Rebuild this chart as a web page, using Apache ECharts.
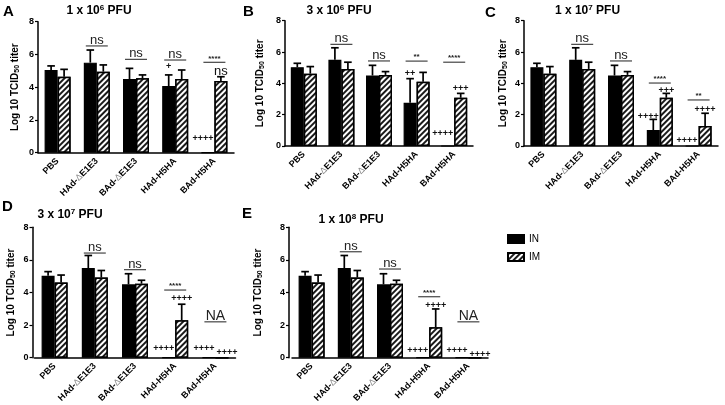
<!DOCTYPE html>
<html>
<head>
<meta charset="utf-8">
<script src="https://cdn.jsdelivr.net/npm/echarts@6/dist/echarts.min.js"></script>
<style>
html,body{margin:0;padding:0;background:#fff;}
#chart{width:725px;height:405px;}
</style>
</head>
<body>
<div id="chart"></div>
<script>
// ---------- DATA ----------
const categories = ['PBS', 'HAd-ΔE1E3', 'BAd-ΔE1E3', 'HAd-H5HA', 'BAd-H5HA'];
const seriesNames = ['IN', 'IM'];
const panelLetters = ['A', 'B', 'C', 'D', 'E'];
const doseMantissa = ['1', '3', '1', '3', '1'];
const doseExponent = ['6', '6', '7', '7', '8'];
const yTickValues = [0, 2, 4, 6, 8];

// Panel A (1 x 10^6 PFU)
const inMeanA = [5.05, 5.5, 4.5, 4.07, 0];
const inUpperA = [5.3, 6.27, 5.15, 4.75, 0];
const imMeanA = [4.64, 4.95, 4.54, 4.5, 4.38];
const imUpperA = [5.09, 5.36, 4.75, 5.05, 4.64];
const sigA = [[1, 6.52, 'ns'], [2, 5.7, 'ns'], [3, 5.66, 'ns'], [4, 5.52, '****']];
const marksA = [[3, 5.25, '+', 'IN'], [4, 4.95, 'ns', 'IM'], [4, 0.87, '++++', 'L']];

// Panel B (3 x 10^6 PFU)
const inMeanB = [5.03, 5.5, 4.5, 2.76, 0];
const inUpperB = [5.28, 6.27, 5.15, 4.3, 0];
const imMeanB = [4.62, 4.92, 4.54, 4.1, 3.08];
const imUpperB = [5.07, 5.35, 4.75, 4.7, 3.36];
const sigB = [[1, 6.49, 'ns'], [2, 5.43, 'ns'], [3, 5.42, '**'], [4, 5.35, '****']];
const marksB = [[3, 4.64, '++', 'IN'], [4, 3.64, '+++', 'IM'], [4, 0.81, '++++', 'L']];

// Panel C (1 x 10^7 PFU)
const inMeanC = [5.03, 5.5, 4.5, 1.02, 0];
const inUpperC = [5.28, 6.27, 5.15, 1.7, 0];
const imMeanC = [4.62, 4.92, 4.54, 3.08, 1.28];
const imUpperC = [5.07, 5.35, 4.75, 3.36, 2.09];
const sigC = [[1, 6.49, 'ns'], [2, 5.43, 'ns'], [3, 4.02, '****'], [4, 2.94, '**']];
const marksC = [[3, 3.57, '+++', 'IM'], [3, 1.87, '++++', 'L'], [4, 2.3, '++++', 'IM'], [4, 0.38, '++++', 'L']];

// Panel D (3 x 10^7 PFU)
const inMeanD = [5.03, 5.5, 4.5, 0, 0];
const inUpperD = [5.28, 6.27, 5.15, 0, 0];
const imMeanD = [4.62, 4.92, 4.54, 2.3, 0];
const imUpperD = [5.07, 5.35, 4.75, 3.28, 0];
const sigD = [[1, 6.42, 'ns'], [2, 5.4, 'ns'], [3, 4.15, '****'], [4, 2.2, 'NA']];
const marksD = [[3, 3.64, '++++', 'IM'], [3, 0.55, '++++', 'L'], [4, 0.55, '++++', 'L'], [4, 0.3, '++++', 'R']];

// Panel E (1 x 10^8 PFU)
const inMeanE = [5.03, 5.5, 4.5, 0, 0];
const inUpperE = [5.28, 6.27, 5.15, 0, 0];
const imMeanE = [4.62, 4.92, 4.54, 1.87, 0];
const imUpperE = [5.07, 5.35, 4.75, 2.99, 0];
const sigE = [[1, 6.5, 'ns'], [2, 5.44, 'ns'], [3, 3.74, '****'], [4, 2.2, 'NA']];
const marksE = [[3, 3.23, '++++', 'IM'], [3, 0.47, '++++', 'L'], [4, 0.47, '++++', 'L'], [4, 0.22, '++++', 'R']];

// ---------- LAYOUT / STYLE ----------
const FONT = "'Liberation Sans', Arial, sans-serif";
const BAR_W = 13;
const layout = [
  { grid: { left: 38, top: 21.7, width: 196, height: 131 }, yOffset: 0, nameGap: 17, title: [99, 4], letter: [3, 12.5] },
  { grid: { left: 285, top: 20.7, width: 188, height: 125.3 }, yOffset: 0, nameGap: 19, title: [339, 4], letter: [243, 12] },
  { grid: { left: 524, top: 20.7, width: 194, height: 125.3 }, yOffset: 0, nameGap: 15, title: [587.5, 4], letter: [485, 13] },
  { grid: { left: 34.5, top: 227.3, width: 201, height: 131.7 }, yOffset: 2, nameGap: 16, title: [70, 208], letter: [2, 207.5] },
  { grid: { left: 292, top: 227.3, width: 196, height: 130.4 }, yOffset: 3, nameGap: 25, title: [351, 213], letter: [242, 214] }
];

const panels = [
  { inM: inMeanA, inU: inUpperA, imM: imMeanA, imU: imUpperA, sig: sigA, marks: marksA },
  { inM: inMeanB, inU: inUpperB, imM: imMeanB, imU: imUpperB, sig: sigB, marks: marksB },
  { inM: inMeanC, inU: inUpperC, imM: imMeanC, imU: imUpperC, sig: sigC, marks: marksC },
  { inM: inMeanD, inU: inUpperD, imM: imMeanD, imU: imUpperD, sig: sigD, marks: marksD },
  { inM: inMeanE, inU: inUpperE, imM: imMeanE, imU: imUpperE, sig: sigE, marks: marksE }
];

const hatch = {
  symbol: 'rect',
  symbolSize: 1,
  color: '#1a1a1a',
  backgroundColor: '#ffffff',
  dashArrayX: [1, 0],
  dashArrayY: [1.1, 1.6],
  rotation: -Math.PI / 4
};

const grids = [], xAxes = [], yAxes = [], series = [], titles = [], graphics = [];

function errRender(arr, offset) {
  return function (params, api) {
    const i = api.value(0), m = api.value(1), u = api.value(2);
    if (!(u > m)) return null;
    const p0 = api.coord([i, m]);
    const p1 = api.coord([i, u]);
    const x = p0[0] + offset;
    const st = { stroke: '#000', lineWidth: 1.7 };
    return {
      type: 'group',
      children: [
        { type: 'line', shape: { x1: x, y1: p0[1], x2: x, y2: p1[1] }, style: st },
        { type: 'line', shape: { x1: x - 3.8, y1: p1[1], x2: x + 3.8, y2: p1[1] }, style: st }
      ]
    };
  };
}

function sigRender(arr) {
  return function (params, api) {
    const d = arr[params.dataIndex];
    const p = api.coord([d[0], d[1]]);
    const t = d[2];
    let font;
    if (t.indexOf('*') >= 0) font = 'bold 8px ' + FONT;
    else if (t === 'NA') font = '14px ' + FONT;
    else font = '13px ' + FONT;
    return {
      type: 'group',
      children: [
        { type: 'line', shape: { x1: p[0] - 11, y1: p[1], x2: p[0] + 11, y2: p[1] }, style: { stroke: '#444', lineWidth: 1.2 } },
        { type: 'text', x: p[0], y: p[1] - (t.indexOf('*') >= 0 ? 0 : -1), style: { text: t, font: font, fill: '#222', textAlign: 'center', textVerticalAlign: 'bottom' } }
      ]
    };
  };
}

function markRender(arr) {
  return function (params, api) {
    const d = arr[params.dataIndex];
    const p = api.coord([d[0], d[1]]);
    const t = d[2], mode = d[3];
    let x = p[0], align = 'center';
    if (mode === 'IN') x = p[0] - BAR_W / 2;
    else if (mode === 'IM') x = p[0] + BAR_W / 2;
    else if (mode === 'L') { x = p[0] - 1; align = 'right'; }
    else if (mode === 'R') { x = p[0] + 1; align = 'left'; }
    const font = t.indexOf('+') >= 0 ? 'bold 9px ' + FONT : '13px ' + FONT;
    return { type: 'text', x: x, y: p[1], style: { text: t, font: font, fill: '#111', textAlign: align, textVerticalAlign: 'middle' } };
  };
}

panels.forEach(function (pn, k) {
  const L = layout[k];
  grids.push(Object.assign({ containLabel: false }, L.grid));
  xAxes.push({
    type: 'category', gridIndex: k, data: categories,
    axisLine: { lineStyle: { color: '#000', width: 1.5 } },
    axisTick: { alignWithLabel: true, length: 3, lineStyle: { color: '#000', width: 1.2 } },
    axisLabel: {
      rotate: 45, margin: 7, interval: 0, color: '#000',
      fontFamily: FONT, fontWeight: 'bold', fontSize: 9,
      formatter: function (v) { return v.replace('Δ', '{d|Δ}'); },
      rich: { d: { color: '#888', fontWeight: 'normal', fontSize: 9, fontFamily: FONT } }
    }
  });
  yAxes.push({
    type: 'value', gridIndex: k, min: yTickValues[0], max: yTickValues[yTickValues.length - 1], interval: 2,
    offset: L.yOffset,
    name: 'Log 10 TCID{s|50} titer', nameLocation: 'middle', nameGap: L.nameGap,
    nameTextStyle: {
      fontFamily: FONT, fontWeight: 'bold', fontSize: 10, color: '#000',
      rich: { s: { fontFamily: FONT, fontWeight: 'bold', fontSize: 7, verticalAlign: 'bottom', padding: [4, 0, 0, 0] } }
    },
    axisLine: { show: true, lineStyle: { color: '#000', width: 1.5 } },
    axisTick: { show: true, length: 3, lineStyle: { color: '#000', width: 1.2 } },
    axisLabel: { color: '#000', fontFamily: FONT, fontWeight: 'bold', fontSize: 9, margin: 4 },
    splitLine: { show: false }
  });
  series.push({
    name: seriesNames[0], type: 'bar', xAxisIndex: k, yAxisIndex: k,
    data: pn.inM, barWidth: BAR_W, barGap: '0%', z: 2,
    itemStyle: { color: '#000', borderColor: '#000', borderWidth: 1.2 }
  });
  series.push({
    name: seriesNames[1], type: 'bar', xAxisIndex: k, yAxisIndex: k,
    data: pn.imM, barWidth: BAR_W, barGap: '0%', z: 2,
    itemStyle: { color: '#fff', borderColor: '#000', borderWidth: 1.5, decal: hatch }
  });
  series.push({
    type: 'custom', xAxisIndex: k, yAxisIndex: k, z: 3, silent: true,
    encode: { x: 0, y: [1, 2] },
    data: pn.inM.map(function (m, i) { return [i, m, pn.inU[i]]; }),
    renderItem: errRender(pn.inM, -BAR_W / 2)
  });
  series.push({
    type: 'custom', xAxisIndex: k, yAxisIndex: k, z: 3, silent: true,
    encode: { x: 0, y: [1, 2] },
    data: pn.imM.map(function (m, i) { return [i, m, pn.imU[i]]; }),
    renderItem: errRender(pn.imM, BAR_W / 2)
  });
  series.push({
    type: 'custom', xAxisIndex: k, yAxisIndex: k, z: 4, silent: true,
    encode: { x: 0, y: 1 },
    data: pn.sig.map(function (d) { return [d[0], d[1]]; }),
    renderItem: sigRender(pn.sig)
  });
  series.push({
    type: 'custom', xAxisIndex: k, yAxisIndex: k, z: 4, silent: true,
    encode: { x: 0, y: 1 },
    data: pn.marks.map(function (d) { return [d[0], d[1]]; }),
    renderItem: markRender(pn.marks)
  });
  titles.push({
    text: doseMantissa[k] + ' x 10{sup|' + doseExponent[k] + '} PFU',
    left: L.title[0], top: L.title[1], textAlign: 'center', padding: 0,
    textStyle: {
      fontFamily: FONT, fontWeight: 'bold', fontSize: 12, color: '#000', lineHeight: 14,
      rich: { sup: { fontFamily: FONT, fontWeight: 'bold', fontSize: 8, verticalAlign: 'top', lineHeight: 14, padding: [0, 0, 6, 0] } }
    }
  });
  graphics.push({
    type: 'text', left: L.letter[0], top: L.letter[1] - 8,
    style: { text: panelLetters[k], font: 'bold 15px ' + FONT, fill: '#000' }
  });
});

const option = {
  animation: false,
  backgroundColor: '#fff',
  title: titles,
  grid: grids,
  xAxis: xAxes,
  yAxis: yAxes,
  series: series,
  graphic: graphics,
  legend: {
    data: seriesNames, orient: 'vertical', left: 502, top: 229,
    itemWidth: 16, itemHeight: 8, itemGap: 8, icon: 'rect',
    textStyle: { fontFamily: FONT, fontSize: 10, color: '#000', padding: [0, 0, 0, 0] }
  }
};

const chart = echarts.init(document.getElementById('chart'), null, { renderer: 'canvas' });
chart.setOption(option);
</script>
</body>
</html>
